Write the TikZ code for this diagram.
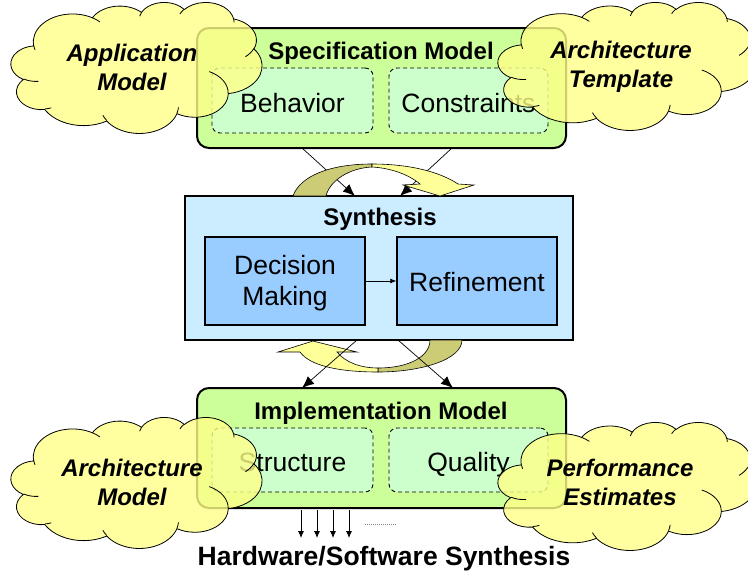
\documentclass[tikz,border=0pt]{standalone}
\usepackage{fontspec}
\setmainfont{Liberation Sans}
\usetikzlibrary{arrows.meta}

\definecolor{specgreen}{HTML}{CCFF99}
\definecolor{partgreen}{HTML}{CCFFCC}
\definecolor{synblue}{HTML}{CCECFF}
\definecolor{stepblue}{HTML}{99CCFF}
\definecolor{cloudyellow}{HTML}{FFFF88}
\definecolor{bandolive}{HTML}{CCCC77}
\definecolor{bandyellow}{HTML}{FFFF99}

\tikzset{
  modelbox/.style={draw=black, line width=2pt, rounded corners=12pt, fill=specgreen},
  partbox/.style={draw=black, line width=0.9pt, dash pattern=on 4pt off 3pt,
    rounded corners=8pt, fill=partgreen, font=\fontsize{26.5}{30}\selectfont,
    text height=25pt, text depth=2pt},
  synbox/.style={draw=black, line width=2pt, fill=synblue},
  stagebox/.style={draw=black, line width=1.4pt, fill=stepblue},
  stagetext/.style={align=center, font=\fontsize{26.5}{31}\selectfont},
  titletext/.style={font=\bfseries\fontsize{24}{28}\selectfont},
  puff/.style={draw=black, line width=0.8pt, fill=cloudyellow, fill opacity=0.8, draw opacity=1},
  curl/.style={draw=black, line width=0.8pt},
  cloudtext/.style={align=center, font=\bfseries\itshape\fontsize{24}{29}\selectfont},
  band/.style={draw=black, line width=0.6pt},
  flow/.style={draw=black, line width=0.7pt, -{Latex[length=12pt,width=10pt]}},
  outflow/.style={draw=black, line width=0.8pt, -{Latex[length=7pt,width=6pt]}},
}

% elliptic arc given by radii and start/sweep angles measured as true (visual) angles
\newcommand\carc[4]{%
  \pgfextra{%
    \pgfmathsetmacro\cta{atan2((#1)*sin(#3),(#2)*cos(#3))}%
    \pgfmathsetmacro\ctb{atan2((#1)*sin((#3)+(#4)),(#2)*cos((#3)+(#4)))}%
    \pgfmathsetmacro\ctd{mod(\ctb-\cta+720,360)}%
  }
  arc[start angle=\cta, delta angle=\ctd, x radius=#1, y radius=#2]}

% cloud outline in a 432 x 432 frame, placed at (left, top) with given width and height
\newcommand\officecloud[4]{%
  \pgfmathsetmacro\cloudsx{(#3)/432}%
  \pgfmathsetmacro\cloudsy{(#4)/432}%
  \begin{scope}[shift={(#1,#2)}, x=\cloudsx pt, y=-\cloudsy pt]
    \path[puff] (39.00,143.70)
      \carc{67.53}{91.90}{-190.4875}{123.7805}
      \carc{53.33}{72.67}{-144.1024}{89.9452}
      \carc{43.65}{59.45}{-145.8079}{99.7230}
      \carc{48.57}{65.95}{-130.9861}{117.2417}
      \carc{53.33}{72.73}{-78.7089}{109.0269}
      \carc{67.75}{92.20}{-46.2673}{130.2690}
      \carc{57.85}{78.67}{0.6250}{114.0333}
      \carc{67.52}{92.15}{22.4516}{115.1726}
      \carc{77.20}{105.43}{66.2426}{75.7110}
      \carc{43.60}{59.18}{-274.9421}{146.7356}
      \carc{43.45}{59.45}{-246.8285}{152.5189}
      -- cycle;
    \path[curl]
      (46.93,261.77) \carc{43.45}{59.45}{86.7420}{26.4295}
      (69.28,348.99) \carc{43.60}{59.18}{73.6105}{11.4475}
      (164.78,390.90) \carc{67.52}{92.15}{137.6242}{14.0811}
      (288.27,347.51) \carc{67.52}{92.15}{6.4533}{15.9984}
      (341.29,229.54) \carc{57.85}{78.67}{-70.2924}{70.9174}
      (417.98,153.54) \carc{53.33}{72.73}{30.3180}{27.7515}
      (383.24,54.26) \carc{48.57}{65.95}{-13.7443}{14.8589}
      (290.78,39.52) \carc{48.57}{65.95}{-149.1815}{18.1954}
      (221.41,47.20) \carc{43.65}{59.45}{-163.4943}{17.6864}
      (140.00,51.92) \carc{67.53}{91.90}{-66.7070}{12.3194}
      (41.27,157.89) \carc{67.53}{91.90}{157.6544}{11.8582};
  \end{scope}}

\begin{document}
\begin{tikzpicture}[x=1pt, y=-1pt]
\useasboundingbox (0,0) rectangle (748,574);

% specification model
\node[modelbox, minimum width=369, minimum height=120] (spec) at (381.5,88) {};
\node[titletext] (spectitle) at (381,53) {Specification Model};
\node[partbox, minimum width=161, minimum height=65] (behav) at (292.5,100.5) {Behavior};
\node[partbox, minimum width=159, minimum height=65] (constr) at (468.5,100.5) {Constraints};

% synthesis
\node[synbox, minimum width=388, minimum height=144] (syn) at (379,268) {};
\node[titletext] (syntitle) at (380,219) {Synthesis};
\node[stagebox, minimum width=160, minimum height=88] (dec) at (285,281) {};
\node[stagetext] (dectext) at (285,283) {Decision\\Making};
\node[stagebox, minimum width=160, minimum height=88] (ref) at (477,281) {};
\node[stagetext] (reftext) at (477,282) {Refinement};
\draw[draw=black, line width=0.7pt, -{Latex[length=6pt,width=5pt]}] (dec.east) -- (ref.west);

% implementation model
\node[modelbox, minimum width=369, minimum height=120] (impl) at (381.5,448) {};
\node[titletext] (impltitle) at (381,413) {Implementation Model};
\node[partbox, minimum width=161, minimum height=64] (struct) at (292.5,460) {Structure};
\node[partbox, minimum width=159, minimum height=64] (qual) at (468.5,460) {Quality};

% connector end points
\coordinate (s1) at (302,148);
\coordinate (s2) at (452,148);
\coordinate (t1) at (355,196);
\coordinate (t2) at (400,196);
\coordinate (u1) at (357,340);
\coordinate (u2) at (398,340);
\coordinate (v1) at (302,388);
\coordinate (v2) at (453,388);

% specification -> synthesis
\draw[flow] (s1) -- (t1);
\draw[flow] (s2) -- (t2);

% iteration band above synthesis
\path[band, fill=bandolive] (293,196) .. controls (300,176) and (330,164) .. (372,164)
  -- (372,167) .. controls (350,168) and (330,180) .. (326,196) -- cycle;
\path[band, fill=bandyellow] (372,164) .. controls (410,164) and (440,172) .. (458,184)
  -- (474,185) -- (440,196) -- (403,185) -- (420,184)
  .. controls (408,174) and (390,168) .. (372,167) -- cycle;

% iteration band below synthesis
\path[band, fill=bandolive] (430,340) -- (462,340) .. controls (462,360) and (420,372) .. (378,372)
  -- (378,368) .. controls (410,368) and (430,356) .. (430,340) -- cycle;
\path[band, fill=bandyellow] (378,372) .. controls (340,372) and (310,366) .. (300,352)
  -- (278,352) -- (313,341) -- (357,352) -- (337,352)
  .. controls (345,362) and (360,368) .. (378,368) -- cycle;

% synthesis -> implementation
\draw[flow] (u1) -- (v1);
\draw[flow] (u2) -- (v2);

% outputs to hardware/software synthesis
\foreach \i/\x in {1/301,2/317,3/333,4/349} {
  \coordinate (o\i) at (\x,510);
  \coordinate (p\i) at (\x,538);
  \draw[outflow] (o\i) -- (p\i);
}
\coordinate (d1) at (365,524);
\coordinate (d2) at (397,524);
\draw[line width=0.8pt, dash pattern=on 1pt off 1pt, gray] (d1) -- (d2);
\node[font=\bfseries\fontsize{26.5}{30}\selectfont] (hwsw) at (384,559) {Hardware/Software Synthesis};

% clouds
\officecloud{11}{2}{251}{131}
\node[cloudtext] (apptext) at (132,67) {Application\\Model};
\officecloud{498}{2}{258}{128}
\node[cloudtext] (tpltext) at (621,67) {Architecture\\Template};
\officecloud{11}{417}{251}{131}
\node[cloudtext] (archtext) at (132,482) {Architecture\\Model};
\officecloud{498}{422}{258}{128}
\node[cloudtext] (perftext) at (620,482) {Performance\\Estimates};
\end{tikzpicture}
\end{document}
